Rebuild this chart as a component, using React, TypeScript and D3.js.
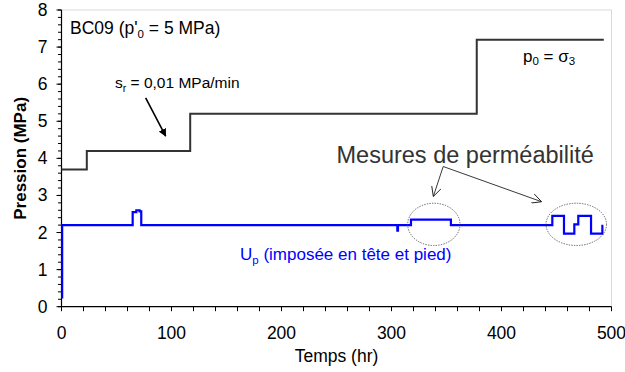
import React from "react";
import * as d3 from "d3";

// Confining pressure p0 = sigma3 (step curve, MPa vs hr)
const confTime = [0, 23, 117, 377.5, 493];
const confValue = [3.7, 4.2, 5.2, 7.2, 7.2];

// Pore pressure Up (step curve)
const poreTime = [0, 0.6, 64.7, 68, 71, 72.5, 305.3, 305.9, 317.7, 354, 446.2, 456.8, 466.2, 469.8, 481.4, 491.7, 492.6];
const poreValue = [0.25, 2.2, 2.55, 2.6, 2.57, 2.2, 2.05, 2.2, 2.35, 2.2, 2.45, 1.97, 2.22, 2.45, 1.97, 2.18, 2.18];

const xTicks = [0, 100, 200, 300, 400, 500];
const yTicks = [0, 1, 2, 3, 4, 5, 6, 7, 8];

const W = 625;
const H = 372;
const M = { left: 61.5, top: 10, right: 611.5, bottom: 306.7 };
const FONT = "'Liberation Sans', Arial, sans-serif";

export default function App() {
  const x = d3.scaleLinear().domain([0, 500]).range([M.left, M.right]);
  const y = d3.scaleLinear().domain([0, 8]).range([M.bottom, M.top]);

  const line = d3
    .line<[number, number]>()
    .x((d) => x(d[0]))
    .y((d) => y(d[1]))
    .curve(d3.curveStepAfter);

  const conf = line(confTime.map((t, i) => [t, confValue[i]] as [number, number]));
  const pore = line(poreTime.map((t, i) => [t, poreValue[i]] as [number, number]));

  const xMinor = d3.range(0, 501, 20);
  const yMinor = d3.range(0, 8.001, 0.2);

  // annotation anchors in data units
  const e1 = { t: 338.5, v: 2.22, rt: 23.8, rv: 0.57 };
  const e2 = { t: 468, v: 2.22, rt: 27.5, rv: 0.57 };
  const arrowFrom = { t: 347, v: 3.78 };
  const arrowTo1 = { t: 338, v: 2.97 };
  const arrowTo2 = { t: 436.5, v: 2.83 };
  const srFrom = { t: 76.5, v: 5.63 };
  const srTo = { t: 94.7, v: 4.6 };

  const ex = (r: number) => x(r) - x(0);
  const ey = (r: number) => y(0) - y(r);

  return (
    <svg
      width={W}
      height={H}
      style={{ position: "absolute", left: 0, top: 0, background: "#fff" }}
      fontFamily={FONT}
    >
      <defs>
        <marker id="openArrow" viewBox="0 0 10 10" refX="10" refY="5" markerWidth="10" markerHeight="10" orient="auto" markerUnits="userSpaceOnUse">
          <path d="M0,0 L10,5 L0,10" fill="none" stroke="#222" strokeWidth="0.9" />
        </marker>
        <marker id="solidArrow" viewBox="0 0 10 10" refX="9" refY="5" markerWidth="8" markerHeight="8" orient="auto" markerUnits="userSpaceOnUse">
          <path d="M0,0 L10,5 L0,10 Z" fill="#000" />
        </marker>
      </defs>

      {/* frame */}
      <line x1={M.left} x2={M.right} y1={M.top} y2={M.top} stroke="#d9d9d9" strokeWidth={1} />
      <line x1={M.right} x2={M.right} y1={M.top} y2={M.bottom} stroke="#d9d9d9" strokeWidth={1} />

      {/* y axis */}
      {yMinor.map((v, i) => (
        <line key={"ym" + i} x1={M.left - 3.5} x2={M.left} y1={y(v)} y2={y(v)} stroke="#000" strokeWidth={1} />
      ))}
      {yTicks.map((v) => (
        <g key={"y" + v}>
          <line x1={M.left - 5} x2={M.left} y1={y(v)} y2={y(v)} stroke="#000" strokeWidth={1} />
          <text x={M.left - 14} y={y(v) + 6} textAnchor="end" fontSize={17.5} fill="#000">
            {v}
          </text>
        </g>
      ))}
      <line x1={M.left} x2={M.left} y1={M.top} y2={M.bottom} stroke="#000" strokeWidth={1.2} />

      {/* x axis */}
      {xMinor.map((t) => (
        <line key={"xm" + t} x1={x(t)} x2={x(t)} y1={M.bottom} y2={M.bottom + 4.5} stroke="#000" strokeWidth={1} />
      ))}
      {xTicks.map((t) => (
        <text key={"x" + t} x={x(t)} y={M.bottom + 32} textAnchor="middle" fontSize={17.5} fill="#000">
          {t}
        </text>
      ))}
      <line x1={M.left} x2={M.right} y1={M.bottom} y2={M.bottom} stroke="#000" strokeWidth={1.2} />

      {/* axis titles */}
      <text x={(M.left + M.right) / 2} y={361.5} textAnchor="middle" fontSize={17.5} fill="#000">
        Temps (hr)
      </text>
      <text
        transform={`translate(25.5,${(M.top + M.bottom) / 2}) rotate(-90)`}
        textAnchor="middle"
        fontSize={17}
        fontWeight="bold"
        fill="#000"
      >
        Pression (MPa)
      </text>

      {/* series */}
      <path d={conf ?? ""} fill="none" stroke="#333" strokeWidth={2} />
      <path d={pore ?? ""} fill="none" stroke="#0000ff" strokeWidth={2.2} />

      {/* ellipses */}
      {[e1, e2].map((e, i) => (
        <ellipse
          key={"e" + i}
          cx={x(e.t)}
          cy={y(e.v)}
          rx={ex(e.rt)}
          ry={ey(e.rv)}
          fill="none"
          stroke="#444"
          strokeWidth={0.8}
          strokeDasharray="1.4,1.2"
        />
      ))}

      {/* arrows */}
      <line x1={x(arrowFrom.t)} y1={y(arrowFrom.v)} x2={x(arrowTo1.t)} y2={y(arrowTo1.v)} stroke="#222" strokeWidth={0.9} markerEnd="url(#openArrow)" />
      <line x1={x(arrowFrom.t)} y1={y(arrowFrom.v)} x2={x(arrowTo2.t)} y2={y(arrowTo2.v)} stroke="#222" strokeWidth={0.9} markerEnd="url(#openArrow)" />
      <line x1={x(srFrom.t)} y1={y(srFrom.v)} x2={x(srTo.t)} y2={y(srTo.v)} stroke="#000" strokeWidth={1.6} markerEnd="url(#solidArrow)" />

      {/* texts */}
      <text x={70} y={34} fontSize={17.5} fill="#000">
        BC09 (p'<tspan fontSize={11.5} dy={4}>0</tspan>
        <tspan dy={-4}> = 5 MPa)</tspan>
      </text>
      <text x={115} y={87.5} fontSize={15.5} fill="#000">
        s<tspan fontSize={10.5} dy={4}>r</tspan>
        <tspan dy={-4}> = 0,01 MPa/min</tspan>
      </text>
      <text x={523} y={61.5} fontSize={17} fill="#000">
        p<tspan fontSize={11.5} dy={3}>0</tspan>
        <tspan dy={-3}> = σ</tspan>
        <tspan fontSize={11.5} dy={3}>3</tspan>
      </text>
      <text x={336.5} y={163.3} fontSize={23.5} fill="#333">
        Mesures de perméabilité
      </text>
      <text x={240} y={260} fontSize={17} fill="#0000ff">
        U<tspan fontSize={11.5} dy={4}>p</tspan>
        <tspan dy={-4}> (imposée en tête et pied)</tspan>
      </text>
    </svg>
  );
}
